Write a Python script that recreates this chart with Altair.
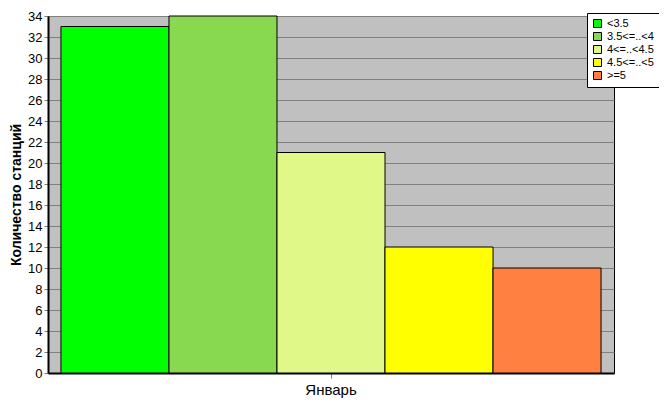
import altair as alt
import pandas as pd

categories = ["<3.5", "3.5<=..<4", "4<=..<4.5", "4.5<=..<5", ">=5"]
counts = [33, 34, 21, 12, 10]
colors = ["#00FF00", "#88D850", "#E0F888", "#FFFF00", "#FF8040"]
month = "Январь"
y_ticks = list(range(0, 35, 2))

df = pd.DataFrame({"month": [month] * len(categories), "cat": categories, "n": counts})

font = "Liberation Sans"

bars = alt.Chart(df).mark_bar(stroke="black", strokeWidth=1, opacity=1).encode(
    x=alt.X("month:N", title=None,
            scale=alt.Scale(paddingInner=0, paddingOuter=0.024),
            axis=alt.Axis(labelAngle=0, labelFontSize=15, labelFont=font, labelColor="black",
                          tickColor="#808080", tickSize=5, domainColor="black", domainWidth=2,
                          labelPadding=4)),
    xOffset=alt.XOffset("cat:N", sort=categories, scale=alt.Scale(paddingInner=0, paddingOuter=0)),
    y=alt.Y("n:Q", title="Количество станций",
            scale=alt.Scale(domain=[0, 34], nice=False),
            axis=alt.Axis(values=y_ticks, labelFontSize=13, labelFont=font, labelColor="black",
                          tickColor="#808080", tickSize=4, domainColor="black", domainWidth=2,
                          gridColor="#808080", gridWidth=1, grid=True, labelPadding=2,
                          titleFont=font, titleFontSize=14, titleFontWeight="bold",
                          titleColor="black", titlePadding=4)),
    color=alt.Color("cat:N", sort=categories,
                    scale=alt.Scale(domain=categories, range=colors),
                    legend=alt.Legend(title=None, orient="none", legendX=539, legendY=-3,
                                      fillColor="white", strokeColor="black", padding=5,
                                      symbolType="square", symbolSize=64, symbolStrokeColor="black",
                                      symbolStrokeWidth=1, symbolOpacity=1,
                                      labelFont=font, labelFontSize=11, labelColor="black",
                                      rowPadding=0, labelOffset=4)),
)

chart = bars.properties(
    width=566, height=357,
    autosize=alt.AutoSizeParams(type="none"),
    padding={"left": 40, "top": 8, "right": 45, "bottom": 34},
    background="white",
).configure_view(fill="#C0C0C0", stroke="black", strokeWidth=1)

chart.save("out.html", embed_options={"renderer": "svg", "actions": False})
